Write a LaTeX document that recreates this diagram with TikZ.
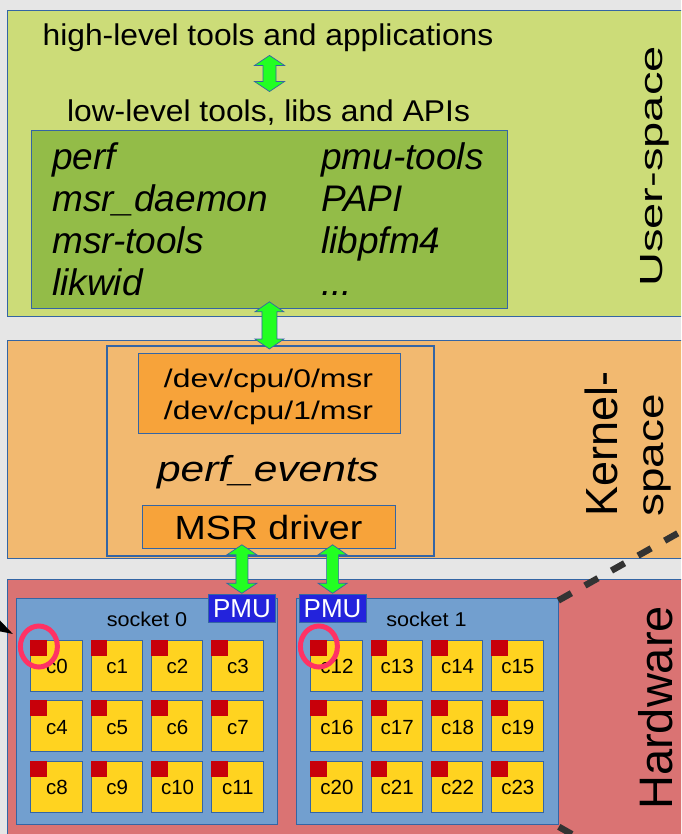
\documentclass[tikz,border=0pt]{standalone}
\usepackage{fontspec}
\setmainfont{Liberation Sans}
\usetikzlibrary{arrows.meta,calc,shapes.geometric}
\definecolor{bgc}{RGB}{230,230,230}
\definecolor{userc}{RGB}{204,220,120}
\definecolor{libc}{RGB}{147,188,72}
\definecolor{kernc}{RGB}{242,185,112}
\definecolor{kboxc}{RGB}{247,163,58}
\definecolor{hwc}{RGB}{218,115,115}
\definecolor{sockc}{RGB}{114,159,207}
\definecolor{corec}{RGB}{255,211,32}
\definecolor{sqc}{RGB}{200,0,10}
\definecolor{pmuc}{RGB}{35,35,220}
\definecolor{ringc}{RGB}{255,50,100}
\definecolor{arrc}{RGB}{34,255,34}
\definecolor{bordc}{RGB}{52,101,164}
\definecolor{dashc}{RGB}{51,51,51}
\newcommand\fs[1]{\fontsize{#1}{#1}\selectfont}
\newcommand\vdarrow[4]{%
  \filldraw[dblarrow] let \p1=#1, \p2=#2 in
   (\x1,\y1) -- (\x1+#4,\y1-10pt) -- (\x1+#3,\y1-10pt) -- (\x1+#3,\y2+10pt)
   -- (\x1+#4,\y2+10pt) -- (\x1,\y2) -- (\x1-#4,\y2+10pt) -- (\x1-#3,\y2+10pt)
   -- (\x1-#3,\y1-10pt) -- (\x1-#4,\y1-10pt) -- cycle;}
\begin{document}
\begin{tikzpicture}[x=1pt,y=-1pt,
  box/.style={draw=bordc, line width=0.8pt, inner sep=0pt, anchor=north west},
  txt/.style={inner sep=0pt, text=black},
  core/.style={box, fill=corec, minimum width=51.3pt, minimum height=51pt},
  sq/.style={fill=sqc},
  ring/.style={draw=ringc, line width=5pt, ellipse, minimum width=37pt, minimum height=41pt, inner sep=0pt},
  dblarrow/.style={fill=arrc, draw=bordc, line width=0.7pt, line join=miter},
  zoomline/.style={draw=dashc, line width=6.5pt, dash pattern=on 15pt off 15.5pt},
  item/.style={txt, anchor=base west, font=\fs{37}\itshape},
  side/.style={txt, anchor=base west, rotate=90},
]
\useasboundingbox (0,0) rectangle (681,834);
\clip (0,0) rectangle (681,834);
\fill[bgc] (0,0) rectangle (681,834);

% ---------- User-space ----------
\node[box, fill=userc, minimum width=720pt, minimum height=306pt] (user) at (7,10) {};
\node[box, fill=libc, minimum width=476pt, minimum height=177.5pt] (libs) at (31,130.5) {};
\node[txt, anchor=base, font=\fs{30}, xscale=1.06] (hi) at (268,46) {high-level tools and applications};
\node[txt, anchor=base, font=\fs{30}, xscale=1.06] (lo) at (268.5,121.5) {low-level tools, libs and APIs};
\node[item] (perf) at (52,170) {perf};
\node[item] (msrd) at (52,211.7) {msr\_daemon};
\node[item] (msrt) at (52,253.4) {msr-tools};
\node[item] (likwid) at (52,295) {likwid};
\node[item] (pmut) at (321,170) {pmu-tools};
\node[item] (papi) at (321,211.7) {PAPI};
\node[item] (libpfm) at (321,253.4) {libpfm4};
\node[item] (dots) at (321,295) {...};
\node[side, font=\fs{32}, xscale=1.47] (ulab) at (662,287) {User-space};

% ---------- Kernel-space ----------
\node[box, fill=kernc, minimum width=720pt, minimum height=218.5pt] (kern) at (7,339.5) {};
\node[box, line width=2pt, minimum width=327pt, minimum height=210pt] (pev) at (105.5,345) {};
\node[box, fill=kboxc, minimum width=262pt, minimum height=80pt] (dev) at (138,353) {};
\node[txt, anchor=base, font=\fs{25.5}, xscale=1.25] (dev0) at (268.5,387) {/dev/cpu/0/msr};
\node[txt, anchor=base, font=\fs{25.5}, xscale=1.25] (dev1) at (268.5,419) {/dev/cpu/1/msr};
\node[txt, anchor=base, font=\fs{36}\itshape, xscale=1.18] (pevl) at (268,481) {perf\_events};
\node[box, fill=kboxc, minimum width=253pt, minimum height=43pt] (msr) at (142,505) {};
\node[txt, anchor=base, font=\fs{33.5}, xscale=1.12] (msrl) at (268.5,539.5) {MSR driver};
\node[side, font=\fs{45}] (klab1) at (617,517) {Kernel-};
\node[side, font=\fs{37}, xscale=1.24] (klab2) at (663,517) {space};

% ---------- Hardware ----------
\node[box, fill=hwc, minimum width=720pt, minimum height=300pt] (hw) at (7,579) {};
\node[box, fill=sockc, minimum width=261pt, minimum height=226pt] (s0) at (16,598) {};
\node[box, fill=sockc, minimum width=262pt, minimum height=226pt] (s1) at (296,598) {};
\node[box, fill=pmuc, minimum width=67pt, minimum height=28pt, text=white, font=\fs{26}] (pmu0) at (208,594) {PMU};
\node[box, fill=pmuc, minimum width=67pt, minimum height=28pt, text=white, font=\fs{26}] (pmu1) at (298.7,594) {PMU};
\node[txt, anchor=base, font=\fs{20}, xscale=1.08] (s0l) at (147,626) {socket 0};
\node[txt, anchor=base, font=\fs{20}, xscale=1.08] (s1l) at (426.5,626) {socket 1};
\foreach \s/\xx in {0/30.4, 1/310.4} {
  \foreach \r in {0,1,2} {
    \foreach \c in {0,1,2,3} {
      \pgfmathtruncatemacro\k{12*\s+4*\r+\c}
      \node[core] (c\k) at (\xx+60.3*\c, 639.5+60.7*\r) {};
      \fill[sq] (c\k.north west) rectangle ++(16.5,16);
      \node[txt, font=\fs{20.5}, anchor=base] (l\k) at ($(c\k.north)+(0.5,34)$) {c\k};
    }
  }
}
\node[ring] (ring0) at ($(c0.north west)+(8.5,7)$) {};
\node[ring] (ring1) at ($(c12.north west)+(8.5,7)$) {};
\node[side, font=\fs{47}] (hlab) at (672,810) {Hardware};

% ---------- connectors ----------
\vdarrow{($(hi.south)+(1.5,3)$)}{($(lo.north)+(1,-8)$)}{6.5pt}{15pt}
\vdarrow{($(libs.south)+(0,-7)$)}{($(pev.north)+(0,4)$)}{7.5pt}{14.5pt}
\vdarrow{($(pmu0 |- msr.south)+(0,-4)$)}{($(pmu0.north)+(0,-0.7)$)}{6pt}{15pt}
\vdarrow{($(pmu1 |- msr.south)+(0,-4)$)}{($(pmu1.north)+(0,-0.7)$)}{6pt}{14.5pt}

\draw[zoomline] ($(s1.north east)+(-0.5,2.5)$) -- ++(160,-90);
\draw[zoomline] ($(s1.south east)+(0,2)$) -- ++(60,34);
\coordinate (lin) at (-40,605);
\draw[line width=2pt, -{Triangle[length=20pt,width=12pt]}] (lin) -- ($(s0.north west)+(-3,36)$);
\end{tikzpicture}
\end{document}
